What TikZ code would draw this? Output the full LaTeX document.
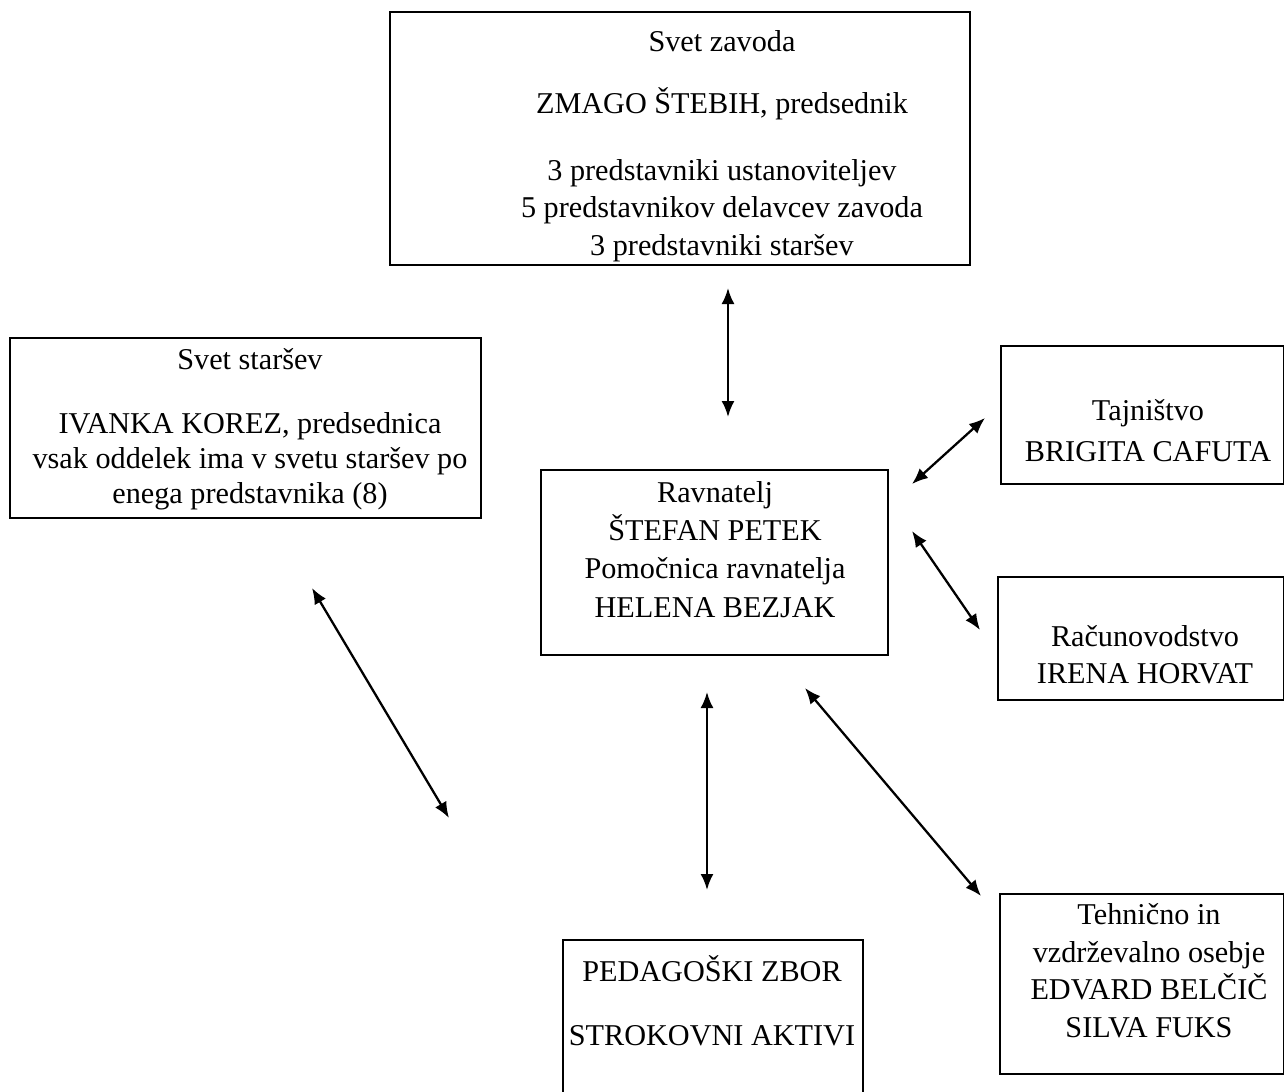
\documentclass[tikz,border=0pt]{standalone}
\usepackage{fontspec}
\setmainfont{Liberation Serif}
\usetikzlibrary{positioning,arrows.meta}

\tikzset{
	okvir/.style={draw=black,line width=0.8pt,inner sep=0pt,rectangle},
	besedilo/.style={align=center,inner sep=0pt,anchor=base,font=\fontsize{17.2}{21.3}\selectfont},
	puscica/.style={line width=1.3pt,{Latex[length=3.2mm,width=2.6mm]}-{Latex[length=3.2mm,width=2.6mm]}}
}

\begin{document}
\begin{tikzpicture}[x=0.02cm,y=-0.02cm]
		\useasboundingbox (0,0) rectangle (1285,1092);
		
		% okvirji
		\node[okvir,minimum width=11.6cm,minimum height=5.06cm] (sz) at (680,138.5) {};
		\node[okvir,minimum width=9.42cm,minimum height=3.6cm] (ss) at (245.5,428) {};
		\node[okvir,minimum width=6.94cm,minimum height=3.7cm] (rav) at (714.5,562.5) {};
		\node[okvir,minimum width=5.65cm,minimum height=2.76cm] (taj) at (1142.25,415) {};
		\node[okvir,minimum width=5.71cm,minimum height=2.46cm] (rac) at (1140.75,638.5) {};
		\node[okvir,minimum width=5.67cm,minimum height=3.6cm] (teh) at (1141.75,984) {};
		\node[okvir,minimum width=6cm,minimum height=3.4cm] (ped) at (713,1025) {};
		
		% besedila (base = zadnja vrstica)
		\node[besedilo] (szt) at (722,255) {Svet zavoda\\[14pt] ZMAGO ŠTEBIH, predsednik\\[16.8pt] 3 predstavniki ustanoviteljev\\ 5 predstavnikov delavcev zavoda\\ 3 predstavniki staršev};
		\node[besedilo,font=\fontsize{17.2}{19.9}\selectfont] (sst) at (250,503) {Svet staršev\\[16.5pt] IVANKA KOREZ, predsednica\\ vsak oddelek ima v svetu staršev po\\ enega predstavnika (8)};
		\node[besedilo,font=\fontsize{17.2}{21.8}\selectfont] (ravt) at (715,617) {Ravnatelj\\ ŠTEFAN PETEK\\ Pomočnica ravnatelja\\ HELENA BEZJAK};
		\node[besedilo,font=\fontsize{17.2}{22.8}\selectfont] (tajt) at (1148,461) {Tajništvo\\ BRIGITA CAFUTA};
		\node[besedilo,font=\fontsize{17.2}{20.5}\selectfont] (ract) at (1145,683) {Računovodstvo\\ IRENA HORVAT};
		\node[besedilo,font=\fontsize{17.2}{21.3}\selectfont] (teht) at (1149,1037) {Tehnično in\\ vzdrževalno osebje\\ EDVARD BELČIČ\\ SILVA FUKS};
		\node[besedilo] (pedt) at (712,1045) {PEDAGOŠKI ZBOR\\[15pt] STROKOVNI AKTIVI};
		
		% puscice
		\coordinate (p1a) at (728,288);
		\coordinate (p1b) at (728,417);
		\coordinate (p2a) at (912,484);
		\coordinate (p2b) at (985,418);
		\coordinate (p3a) at (912,531);
		\coordinate (p3b) at (980,630);
		\coordinate (p4a) at (312,588);
		\coordinate (p4b) at (449,818);
		\coordinate (p5a) at (707,692);
		\coordinate (p5b) at (707,890);
		\coordinate (p6a) at (805,688);
		\coordinate (p6b) at (981,896);
		
		\draw[puscica] (p1a)--(p1b);
		\draw[puscica] (p2a)--(p2b);
		\draw[puscica] (p3a)--(p3b);
		\draw[puscica] (p4a)--(p4b);
		\draw[puscica] (p5a)--(p5b);
		\draw[puscica] (p6a)--(p6b);
	\end{tikzpicture}
\end{document}
